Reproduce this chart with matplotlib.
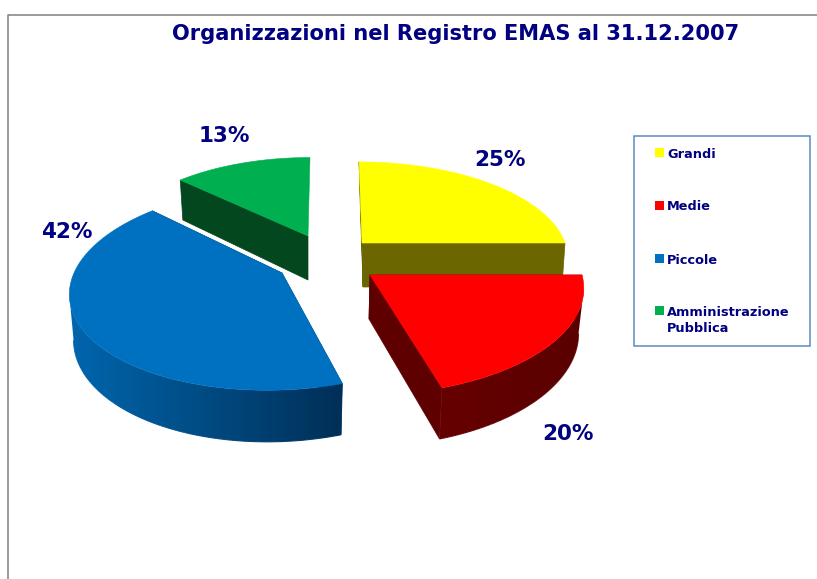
import numpy as np
import matplotlib
matplotlib.use("Agg")
import matplotlib.pyplot as plt
from matplotlib.patches import Polygon, Rectangle
from matplotlib.collections import LineCollection
from matplotlib.colors import to_rgb

title = "Organizzazioni nel Registro EMAS al 31.12.2007"
categories = ["Grandi", "Medie", "Piccole", "Amministrazione\nPubblica"]
values = [25, 20, 42, 13]

top_colors = ["#ffff00", "#ff0000", "#0070c0", "#00b050"]
cut_colors = ["#6b6600", "#5e0000", "#004070", "#03471f"]
wall_left = ["#6b6600", "#660000", "#0066ae", "#03471f"]
wall_right = ["#6b6600", "#5a0000", "#002f57", "#03471f"]
# geometry of each exploded slice, in pixels
apex_x = [362, 370, 282, 308]
apex_y = [243, 275, 273, 236]
rad_x = [203, 212, 208, 195]
rad_y = [93, 102, 100, 90]
shear = [-3.4, 3.8, 13, 2.3]
base_shift = [1, -1, 0, 0]
show_last_cut = [True, True, True, False]
persp = 0.147
depth = 44
bottom_scale = 0.98
label_x = [500, 568, 67, 224]
label_y = [160, 434, 232, 136]
legend_y = [152.5, 205, 258.5, 310.5]
text_c = "#000080"

fig = plt.figure(figsize=(8.17, 5.79), dpi=100)
ax = fig.add_axes([0, 0, 1, 1])
ax.axis("off")

ax.plot([8.5, 8.5, 817], [579, 14.5, 14.5], color="#808080", lw=1.1, zorder=1)
ax.text(456, 34.5, title, color=text_c, fontsize=15.1, fontweight="bold",
        ha="center", va="center", family="DejaVu Sans")


def top_pt(i, th):
    w = 1 + persp * np.sin(th)
    x = apex_x[i] + (rad_x[i] * np.cos(th) + shear[i] * np.sin(th)) / w
    y = apex_y[i] - rad_y[i] * np.sin(th) / w
    return x, y


def bot_pt(i, x, y, w):
    return apex_x[i] + (x - apex_x[i]) * bottom_scale + base_shift[i], y + depth / w


fractions = np.array(values) / sum(values)
ends = 90 - 360 * np.cumsum(fractions)
starts = np.concatenate(([90], ends[:-1]))
order = [3, 2, 0, 1]

for i in order:
    ths = np.radians(np.linspace(starts[i], ends[i], 200))
    wts = 1 + persp * np.sin(ths)
    xs, ys = top_pt(i, ths)
    bx, by = bot_pt(i, xs, ys, wts)
    ax0, ay0 = apex_x[i], apex_y[i]
    abx, aby = bot_pt(i, ax0, ay0, 1.0)
    z = 3 + order.index(i) * 3
    # cut faces
    for k in (0, -1):
        if k == -1 and not show_last_cut[i]:
            continue
        ax.add_patch(Polygon([(ax0, ay0), (xs[k], ys[k]), (bx[k], by[k]), (abx, aby)],
                             closed=True, fc=cut_colors[i], ec=cut_colors[i], lw=0.5, zorder=z))
    # outer wall: visible between the right-most and left-most points of the arc
    lo, hi = int(np.argmax(xs)), int(np.argmin(xs))
    if lo < hi:
        fx, fy, fbx, fby = xs[lo:hi + 1], ys[lo:hi + 1], bx[lo:hi + 1], by[lo:hi + 1]
        c0, c1 = np.array(to_rgb(wall_left[i])), np.array(to_rgb(wall_right[i]))
        xmin, xmax = min(fx.min(), fbx.min()), max(fx.max(), fbx.max())
        ramp = np.linspace(0, 1, 256)[None, :, None]
        grad = c0[None, None, :] + (c1 - c0)[None, None, :] * ramp
        ytop, ybot = min(fy.min(), fby.min()), max(fy.max(), fby.max())
        im = ax.imshow(grad, extent=(xmin, xmax, ybot, ytop), aspect="auto",
                       interpolation="bilinear", zorder=z + 1)
        clip = Polygon(np.column_stack([np.r_[fx, fbx[::-1]], np.r_[fy, fby[::-1]]]),
                       closed=True, transform=ax.transData)
        im.set_clip_path(clip)
        # smooth outer edge of the wall
        seg_pts = np.column_stack([fbx, fby])
        segs = np.stack([seg_pts[:-1], seg_pts[1:]], axis=1)
        ts = (0.5 * (fbx[:-1] + fbx[1:]) - xmin) / (xmax - xmin)
        ax.add_collection(LineCollection(segs, colors=[tuple(c0 + (c1 - c0) * t) for t in ts],
                                         linewidths=0.8, zorder=z + 1))
    # top
    ax.add_patch(Polygon(np.column_stack([np.r_[ax0, xs], np.r_[ay0, ys]]), closed=True,
                         fc=top_colors[i], ec=top_colors[i], lw=0.4, zorder=z + 2))
    ax.text(label_x[i], label_y[i], f"{values[i]}%", color=text_c, fontsize=15.5,
            fontweight="bold", ha="center", va="center", family="DejaVu Sans", zorder=30)

# legend
ax.add_patch(Rectangle((634, 135.5), 176, 210, fc="white", ec="#5b8ac6", lw=1.1, zorder=20))
for i, name in enumerate(categories):
    ax.add_patch(Rectangle((655, legend_y[i] - 4.5), 9, 9, fc=top_colors[i], ec="none", zorder=21))
    ax.text(667, legend_y[i] - 5, name, color=text_c, fontsize=9.3, fontweight="bold",
            ha="left", va="top", linespacing=1.3, family="DejaVu Sans", zorder=21)

ax.set_xlim(0, 817)
ax.set_ylim(579, 0)
fig.savefig("out.png", dpi=100)
